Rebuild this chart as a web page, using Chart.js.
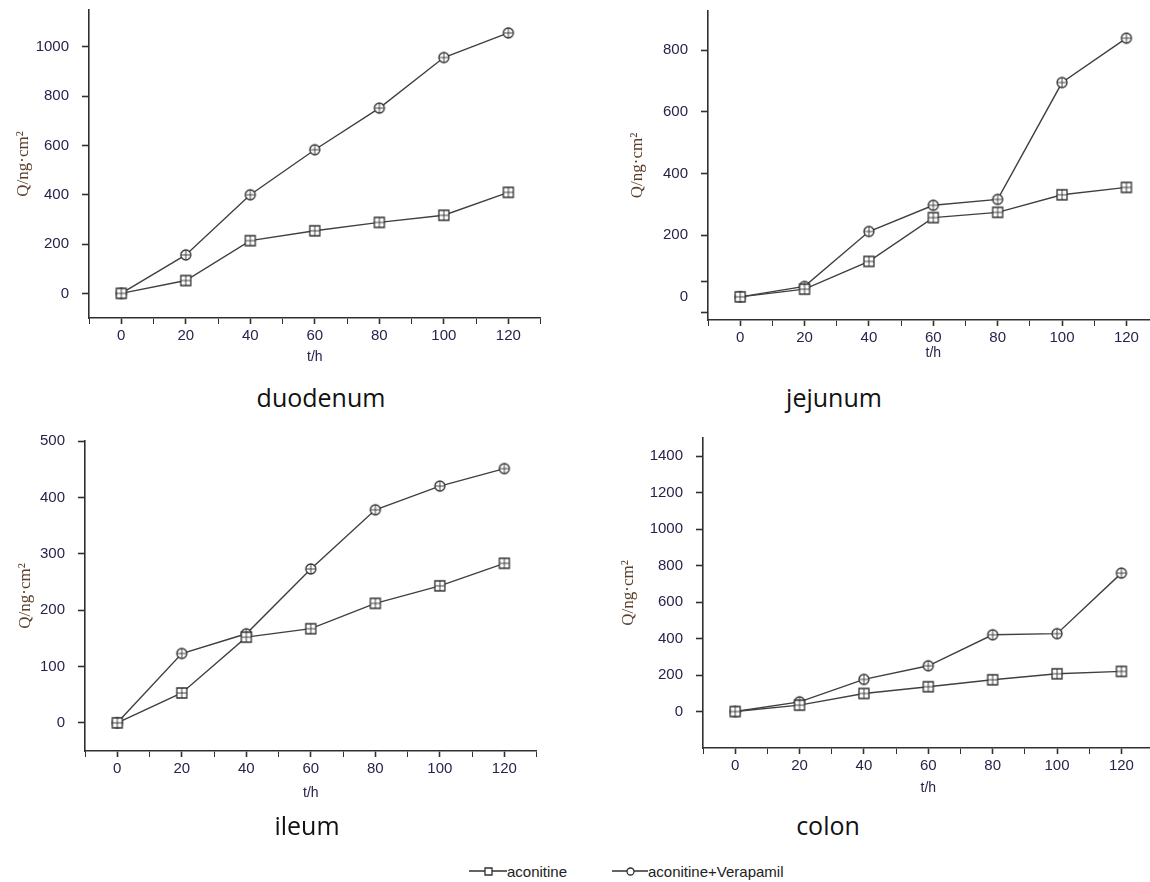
<!DOCTYPE html>
<html>
<head>
<meta charset="utf-8">
<title>aconitine permeation</title>
<script src="https://cdn.jsdelivr.net/npm/chart.js@4.4.1/dist/chart.umd.min.js"></script>
<style>
  html, body { margin: 0; padding: 0; background: #fff; }
  body { width: 1150px; height: 882px; overflow: hidden; position: relative; font-family: "Liberation Sans", Arial, sans-serif; }
  .plot { position: absolute; }
  .panel-title { position: absolute; transform: translate(-50%, -50%); font-family: "Open Sans", sans-serif; font-size: 25px; color: #111; white-space: nowrap; }
  .legend-item { position: absolute; top: 861px; height: 20px; display: flex; align-items: center; font-size: 15px; color: #222; white-space: nowrap; }
  .legend-item canvas { display: block; }
</style>
</head>
<body>

<canvas class="plot" id="duodenum"></canvas>
<canvas class="plot" id="jejunum"></canvas>
<canvas class="plot" id="ileum"></canvas>
<canvas class="plot" id="colon"></canvas>

<div class="legend-item" style="left:469px"><canvas id="legAco" width="38" height="14"></canvas><span>aconitine</span></div>
<div class="legend-item" style="left:612px"><canvas id="legVer" width="36" height="14"></canvas><span>aconitine+Verapamil</span></div>

<script>
// ===============================
// Data
// ===============================
const times = [0, 20, 40, 60, 80, 100, 120];
const seriesNames = ["aconitine", "aconitine+Verapamil"];

const duodenumAco = [0, 52, 214, 254, 288, 317, 410];
const duodenumVer = [0, 156, 400, 583, 752, 957, 1057];
const jejunumAco = [0, 25, 115, 257, 274, 331, 355];
const jejunumVer = [0, 34, 212, 297, 316, 695, 839];
const ileumAco = [0, 53, 152, 167, 212, 243, 283];
const ileumVer = [0, 123, 158, 273, 378, 420, 451];
const colonAco = [0, 35, 99, 136, 174, 207, 220];
const colonVer = [0, 53, 176, 251, 421, 427, 759];

// tick marks and labels
const xTicks = [-10, 0, 10, 20, 30, 40, 50, 60, 70, 80, 90, 100, 110, 120, 130];
const xLabels = [0, 20, 40, 60, 80, 100, 120];
const duodenumYTicks = [0, 200, 400, 600, 800, 1000];
const jejunumYTicks = [-50, 0, 50, 200, 400, 600, 800];
const jejunumYLabels = [0, 200, 400, 600, 800];
const ileumYTicks = [0, 100, 200, 300, 400, 500];
const colonYTicks = [0, 200, 400, 600, 800, 1000, 1200, 1400];

const xTitle = "t/h";
const yTitle = "Q/ng\u00b7cm\u00b2";

const panels = [
  { id: "duodenum", aco: duodenumAco, ver: duodenumVer, yMin: -100, yMax: 1150, yTicks: duodenumYTicks, yLabels: duodenumYTicks, noTick: [] },
  { id: "jejunum", aco: jejunumAco, ver: jejunumVer, yMin: -75, yMax: 927, yTicks: jejunumYTicks, yLabels: jejunumYLabels, noTick: [0] },
  { id: "ileum", aco: ileumAco, ver: ileumVer, yMin: -50, yMax: 500, yTicks: ileumYTicks, yLabels: ileumYTicks, noTick: [] },
  { id: "colon", aco: colonAco, ver: colonVer, yMin: -200, yMax: 1500, yTicks: colonYTicks, yLabels: colonYTicks, noTick: [] }
];

// ===============================
// Layout (pixel positions on the page)
// ===============================
const layouts = {
  duodenum: { left: 0, top: 0, axisX: 89, areaTop: 10, areaRight: 541, axisY: 318, xTitleY: 357, yTitleX: 23, titleX: 321, titleY: 397 },
  jejunum: { left: 600, top: 0, axisX: 708, areaTop: 11, areaRight: 1159, axisY: 320, xTitleY: 353, yTitleX: 637, titleX: 834, titleY: 397 },
  ileum: { left: 0, top: 430, axisX: 85, areaTop: 441, areaRight: 537, axisY: 751, xTitleY: 793, yTitleX: 25, titleX: 307, titleY: 825 },
  colon: { left: 600, top: 430, axisX: 703, areaTop: 438, areaRight: 1154, axisY: 748, xTitleY: 788, yTitleX: 628, titleX: 828, titleY: 825 }
};

const INK = "#303030";
const LABEL = "#26244a";

// ===============================
// Markers
// ===============================
function makeMarker(shape, size, cross) {
  const c = document.createElement("canvas");
  c.width = size + 4;
  c.height = size + 4;
  const g = c.getContext("2d");
  const m = c.width / 2, r = size / 2;
  g.fillStyle = "#fff";
  g.strokeStyle = INK;
  g.lineWidth = 1.3;
  g.beginPath();
  if (shape === "circle") g.arc(m, m, r, 0, Math.PI * 2);
  else g.rect(m - r, m - r, size, size);
  g.fill();
  g.stroke();
  if (cross) {
    g.beginPath();
    g.moveTo(m - r, m); g.lineTo(m + r, m);
    g.moveTo(m, m - r); g.lineTo(m, m + r);
    g.lineWidth = 0.9;
    g.stroke();
  }
  return c;
}

const squareMarker = makeMarker("square", 10, true);
const circleMarker = makeMarker("circle", 10, true);

// ===============================
// Charts
// ===============================
function buildChart(p) {
  const lay = layouts[p.id];
  const cv = document.getElementById(p.id);
  const bottom = lay.xTitleY + 16;
  cv.width = lay.areaRight + 6 - lay.left;
  cv.height = bottom - lay.top;
  cv.style.left = lay.left + "px";
  cv.style.top = lay.top + "px";

  const lineSet = (name, values, marker) => ({
    label: name,
    data: times.map((t, i) => ({ x: t, y: values[i] })),
    borderColor: "#404040",
    borderWidth: 1.4,
    pointStyle: marker,
    pointRadius: 5,
    tension: 0,
    fill: false
  });

  return new Chart(cv, {
    type: "line",
    data: {
      datasets: [
        lineSet(seriesNames[0], p.aco, squareMarker),
        lineSet(seriesNames[1], p.ver, circleMarker)
      ]
    },
    options: {
      responsive: false,
      animation: false,
      devicePixelRatio: 1,
      layout: { padding: { left: 0, top: lay.areaTop - lay.top, right: 6, bottom: 0 } },
      plugins: { legend: { display: false }, tooltip: { enabled: false } },
      scales: {
        x: {
          type: "linear",
          min: -10,
          max: 130,
          afterBuildTicks: s => { s.ticks = xTicks.map(v => ({ value: v })); },
          afterFit: s => { s.height = bottom - lay.axisY; s.paddingLeft = 0; s.paddingRight = 0; },
          border: { display: true, color: INK, width: 1.6 },
          grid: {
            drawOnChartArea: false,
            drawTicks: true,
            tickLength: 6,
            tickColor: INK,
            tickWidth: ctx => (ctx.tick && ctx.tick.value % 20 === 0 ? 1.6 : 1)
          },
          ticks: {
            autoSkip: false,
            maxRotation: 0,
            padding: 3,
            color: LABEL,
            font: { family: "Liberation Sans", size: 15 },
            callback: v => (xLabels.includes(v) ? String(v) : "")
          },
          title: {
            display: true,
            text: xTitle,
            color: LABEL,
            font: { family: "Liberation Sans", size: 14 },
            padding: { top: 0, bottom: (bottom - lay.xTitleY) - 8.4 }
          }
        },
        y: {
          type: "linear",
          min: p.yMin,
          max: p.yMax,
          afterBuildTicks: s => { s.ticks = p.yTicks.map(v => ({ value: v })); },
          afterFit: s => { s.width = lay.axisX - lay.left; s.paddingTop = 0; s.paddingBottom = 0; },
          border: { display: true, color: INK, width: 1.6 },
          grid: {
            drawOnChartArea: false,
            drawTicks: true,
            tickLength: 7,
            tickWidth: 1.6,
            tickColor: ctx => (ctx.tick && p.noTick.includes(ctx.tick.value) ? "rgba(0,0,0,0)" : INK)
          },
          ticks: {
            autoSkip: false,
            padding: 13,
            color: LABEL,
            font: { family: "Liberation Sans", size: 15 },
            callback: v => (p.yLabels.includes(v) ? String(v) : "")
          },
          title: {
            display: true,
            text: yTitle,
            color: "#5b3f2a",
            font: { family: "Liberation Serif", size: 17 },
            padding: { top: lay.yTitleX - lay.left - 10, bottom: 0 }
          }
        }
      }
    }
  });
}

panels.forEach(p => {
  buildChart(p);
  const lay = layouts[p.id];
  const t = document.createElement("div");
  t.className = "panel-title";
  t.textContent = p.id;
  t.style.left = lay.titleX + "px";
  t.style.top = lay.titleY + "px";
  document.body.appendChild(t);
});

// ===============================
// Legend swatches
// ===============================
function drawSwatch(id, shape) {
  const c = document.getElementById(id);
  const g = c.getContext("2d");
  const mid = c.height / 2;
  g.strokeStyle = INK;
  g.lineWidth = 1.3;
  g.beginPath();
  g.moveTo(0, mid);
  g.lineTo(c.width, mid);
  g.stroke();
  const mk = makeMarker(shape, 7, false);
  g.drawImage(mk, Math.round(c.width / 2 - mk.width / 2), Math.round(mid - mk.height / 2));
}

drawSwatch("legAco", "square");
drawSwatch("legVer", "circle");
</script>
</body>
</html>
